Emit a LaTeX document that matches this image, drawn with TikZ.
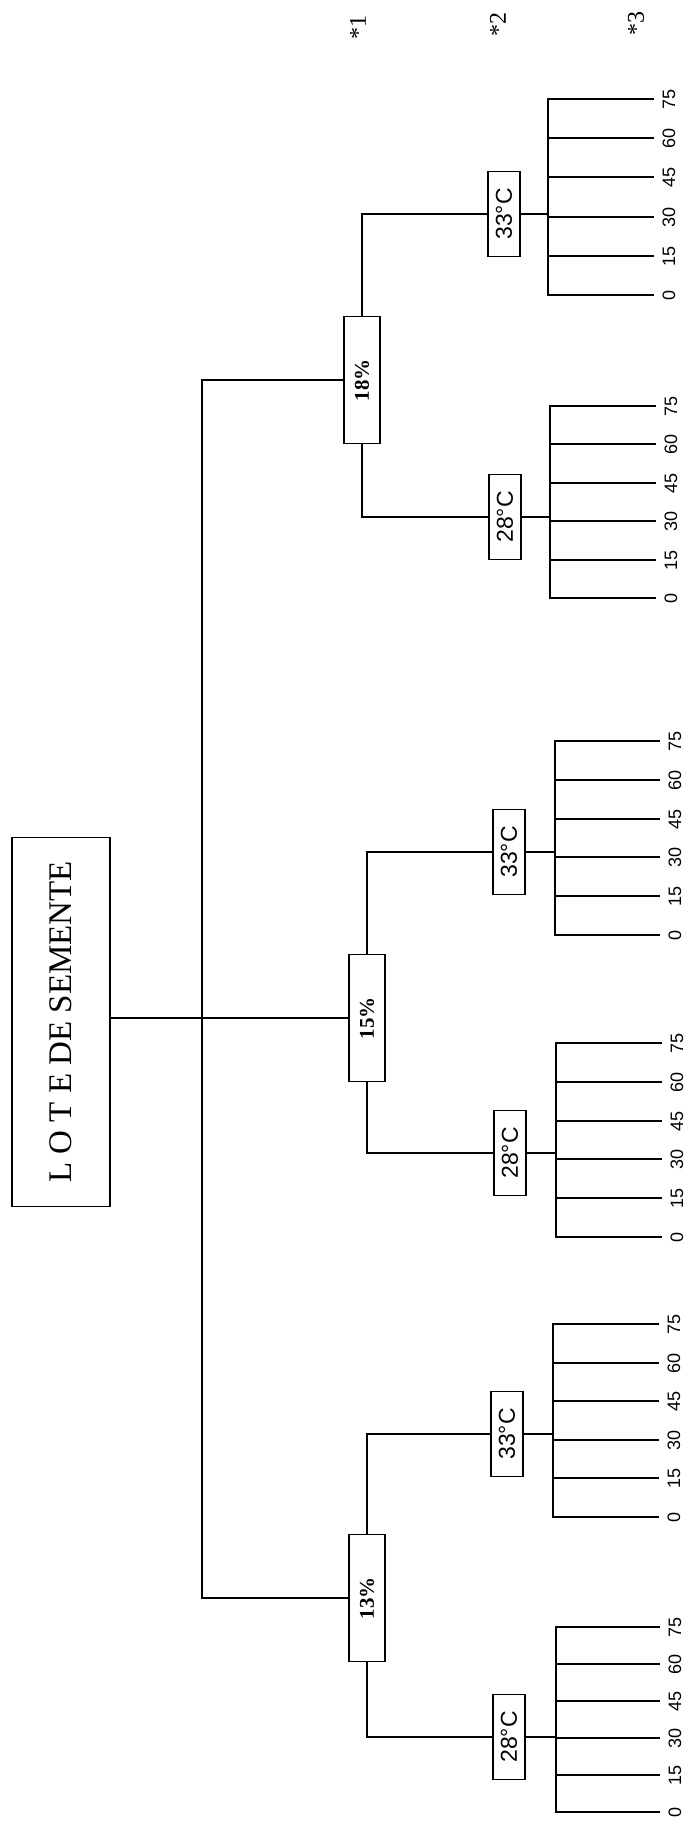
\documentclass[tikz,border=0pt]{standalone}
\usepackage{fontspec}
\setmainfont{Liberation Serif}
\newfontfamily\sansf{Liberation Sans}
\usepackage{graphicx}
\begin{document}
\begin{tikzpicture}[x=1pt,y=-1pt,line width=1.4pt,
  box/.style={draw,inner sep=0pt,line width=1.4pt},
  pct/.style={box,minimum width=36pt,minimum height=127pt,font=\fontsize{21}{21}\selectfont\bfseries},
  temp/.style={box,minimum width=32pt,minimum height=85pt,font=\sansf\fontsize{23}{23}\selectfont},
  tick/.style={rotate=90,inner sep=0pt,font=\sansf\fontsize{18}{18}\selectfont},
  star/.style={rotate=90,inner sep=0pt,font=\fontsize{24}{24}\selectfont}]
\useasboundingbox (0,0) rectangle (689,1823);

% root
\node[box,minimum width=98pt,minimum height=369pt,font=\fontsize{33}{33}\selectfont] (lote) at (61,1022) {\rotatebox{90}{L O T E DE SEMENTE}};

% moisture levels
\node[pct] (p18) at (362,380) {\rotatebox{90}{18\%}};
\node[pct] (p15) at (367,1018) {\rotatebox{90}{15\%}};
\node[pct] (p13) at (367,1598) {\rotatebox{90}{13\%}};

% temperatures
\node[temp] (t18a) at (504,214) {\rotatebox{90}{33°C}};
\node[temp] (t18b) at (505,517) {\rotatebox{90}{28°C}};
\node[temp] (t15a) at (509,852) {\rotatebox{90}{33°C}};
\node[temp] (t15b) at (510,1153) {\rotatebox{90}{28°C}};
\node[temp] (t13a) at (507,1434) {\rotatebox{90}{33°C}};
\node[temp] (t13b) at (509,1737) {\rotatebox{90}{28°C}};

% column markers
\node[star] (s1) at (358,27) {*1};
\node[star] (s2) at (498,24) {*2};
\node[star] (s3) at (636,23) {*3};

% trunk
\coordinate (tb) at (202,1598);
\draw (lote.east |- p15.west) -- (p15.west);
\draw (p18.west) -| (tb) -- (p13.west);

% branches to temperatures
\draw (p18.north) |- (t18a.west);
\draw (p18.south) |- (t18b.west);
\draw (p15.north) |- (t15a.west);
\draw (p15.south) |- (t15b.west);
\draw (p13.north) |- (t13a.west);
\draw (p13.south) |- (t13b.west);

% combs of times
\foreach \t/\sx/\ya/\yb/\ex in {t18a/548/99/295/654, t18b/550/406/598/656, t15a/555/741/935/660, t15b/556/1043/1237/662, t13a/553/1324/1517/659, t13b/556/1627/1812/660}{
  \foreach \i/\lab in {0/0,1/15,2/30,3/45,4/60,5/75}{
    \pgfmathsetmacro\yy{round(\yb-(\yb-\ya)*\i/5)}
    \coordinate (\t-p\i) at (\sx,\yy);
    \coordinate (\t-e\i) at (\ex,\yy);
    \node[tick] (\t-l\i) at (\ex+15,\yy) {\lab};
  }
  \draw (\t.east) -- (\t.east -| \t-p0);
  \draw (\t-e5) -- (\t-p5) -- (\t-p0) -- (\t-e0);
  \foreach \i in {1,2,3,4}{
    \draw (\t-p\i) -- (\t-e\i);
  }
}
\end{tikzpicture}
\end{document}
